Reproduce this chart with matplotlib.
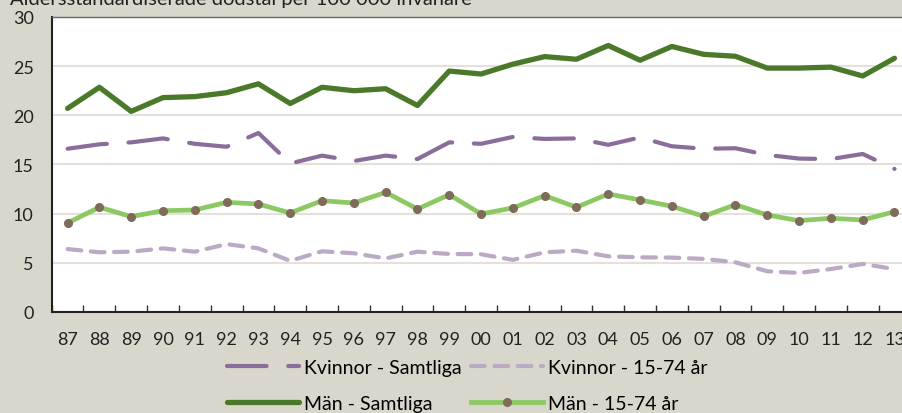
import matplotlib.pyplot as plt
import numpy as np

# values
years = ["87", "88", "89", "90", "91", "92", "93", "94", "95", "96", "97", "98", "99",
         "00", "01", "02", "03", "04", "05", "06", "07", "08", "09", "10", "11", "12", "13"]
kvinnor_samtliga = [16.6, 17.05, 17.25, 17.65, 17.1, 16.8, 18.2, 15.1, 15.9, 15.35, 15.9, 15.55, 17.25,
                    17.1, 17.8, 17.6, 17.65, 17.0, 17.75, 16.85, 16.6, 16.65, 15.97, 15.6, 15.55, 16.07, 14.55]
kvinnor_1574 = [6.4, 6.07, 6.13, 6.47, 6.13, 6.9, 6.47, 5.2, 6.17, 5.97, 5.45, 6.13, 5.9,
                5.87, 5.3, 6.07, 6.23, 5.66, 5.56, 5.53, 5.4, 5.05, 4.14, 3.97, 4.37, 4.88, 4.37]
man_samtliga = [20.7, 22.85, 20.4, 21.8, 21.9, 22.3, 23.2, 21.2, 22.85, 22.5, 22.7, 21.0, 24.5,
                24.2, 25.2, 25.97, 25.7, 27.1, 25.6, 27.0, 26.2, 26.0, 24.8, 24.8, 24.9, 24.0, 25.8]
man_1574 = [9.05, 10.65, 9.7, 10.3, 10.37, 11.15, 10.98, 10.07, 11.32, 11.08, 12.17, 10.47, 11.93,
            9.97, 10.58, 11.83, 10.65, 12.0, 11.39, 10.75, 9.73, 10.91, 9.86, 9.29, 9.53, 9.36, 10.2]
y_ticks = [0, 5, 10, 15, 20, 25, 30]

bg = "#D9D7CB"
plt.rcParams["font.family"] = ["Lato", "DejaVu Sans"]

fig = plt.figure(figsize=(9.02, 4.14), dpi=100, facecolor=bg)
ax = fig.add_axes([0.0573, 0.244, 0.952, 0.7126])
ax.set_facecolor("white")

x = np.arange(len(years))
ks, = ax.plot(x, kvinnor_samtliga, color="#8A6D9A", lw=3, solid_capstyle="round",
              dash_capstyle="round", linestyle=(0, (9.5, 5.2)), label="Kvinnor - Samtliga")
k15, = ax.plot(x, kvinnor_1574, color="#BCA9C6", lw=3, dash_capstyle="round",
               linestyle=(0, (3.3, 2.3)), label="Kvinnor - 15-74 år")
ms, = ax.plot(x, man_samtliga, color="#4A7A29", lw=3.8, solid_capstyle="round",
              label="Män - Samtliga")
m15, = ax.plot(x, man_1574, color="#8CC962", lw=3.4, marker="o", markersize=5.5,
               markerfacecolor="#7E6B5A", markeredgecolor="#7E6B5A", label="Män - 15-74 år")

ax.set_xlim(-0.5, len(years) - 0.5)
ax.set_ylim(0, 30)
ax.set_yticks(y_ticks)
ax.set_xticks(x)
ax.set_xticklabels(years)
ax.set_xticks(np.arange(-0.5, len(years), 1), minor=True)
ax.tick_params(axis="x", which="major", length=0, pad=14, labelsize=13, colors="#222222")
ax.tick_params(axis="x", which="minor", direction="in", length=5, width=1, color="#333333")
ax.tick_params(axis="y", length=0, pad=13, labelsize=13, colors="#222222")
ax.grid(axis="y", color="#E3E1DA", lw=1.5)
ax.set_axisbelow(True)
for s in ["top", "right"]:
    ax.spines[s].set_color("#666666")
    ax.spines[s].set_linewidth(1)
for s in ["left", "bottom"]:
    ax.spines[s].set_color("#222222")
    ax.spines[s].set_linewidth(1.5)

fig.text(0.011, 1 - 4.5 / 414, "Åldersstandardiserade dödstal per 100 000 invånare",
         fontsize=14.5, color="#222222", va="baseline")

leg = fig.legend(handles=[ks, ms, k15, m15], ncol=2, loc="upper left",
                 bbox_to_anchor=(0.232, 0.172), frameon=False, fontsize=14,
                 handlelength=3.7, handletextpad=0.25, columnspacing=0.5, labelspacing=0.95)

fig.savefig("out.png", dpi=100, facecolor=bg)
